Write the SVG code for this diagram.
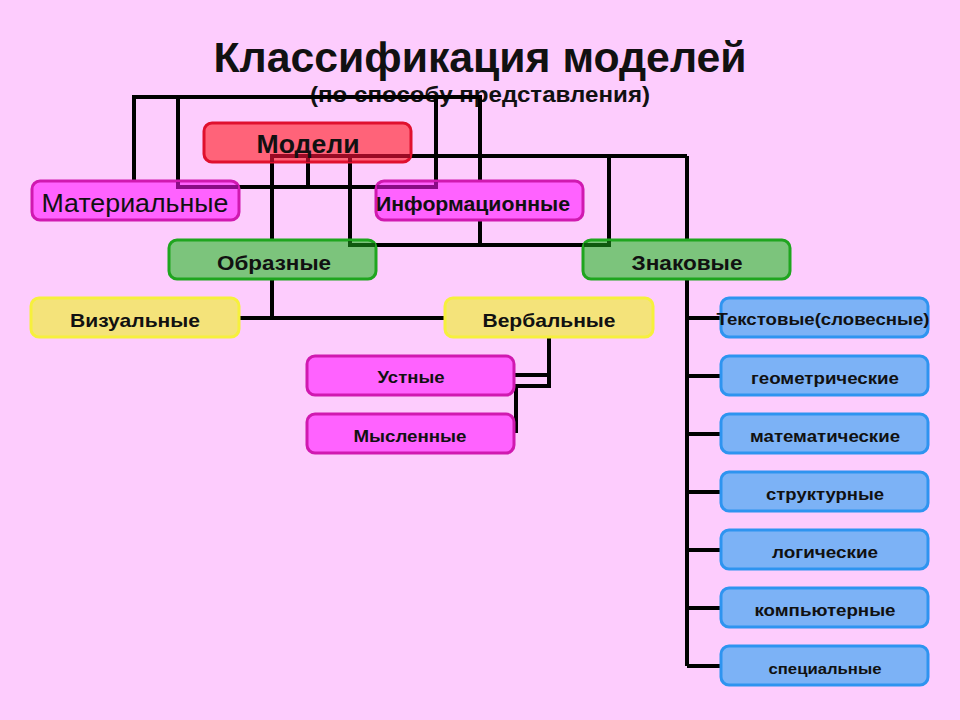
<svg xmlns="http://www.w3.org/2000/svg" width="960" height="720" viewBox="0 0 960 720">
<style>
text{font-family:"Liberation Sans",Arial,sans-serif;font-weight:bold;fill:#111;text-anchor:middle}
.ln{fill:none;stroke:#000;stroke-width:4;stroke-linejoin:miter}
.box{stroke-width:3}
.red{fill:#FF6379;stroke:#E0102E}
.mag{fill:#FF62FF;stroke:#D019B0}
.grn{fill:#7CC47C;stroke:#1FA51F}
.yel{fill:#F4E37A;stroke:#F6F03C}
.blu{fill:#7CB2F6;stroke:#2E94F0}
.in-red{fill:none;stroke:#9A0A24;stroke-width:4}
.in-mag{fill:none;stroke:#8A0C86;stroke-width:4}
.in-grn{fill:none;stroke:#0F5A0F;stroke-width:4}
</style>
<rect x="0" y="0" width="960" height="720" fill="#FDCCFD"/>
<text x="480" y="72" font-size="42" textLength="533" lengthAdjust="spacingAndGlyphs">Классификация моделей</text>
<text x="480" y="102" font-size="22" textLength="340" lengthAdjust="spacingAndGlyphs">(по способу представления)</text>
<g id="connectors">
<path class="ln" d="M134,181 V97 H480 V181"/>
<path class="ln" d="M178,97 V181 M239,187 H376 M436,181 V97"/>
<path class="ln" d="M308,162 V187"/>
<path class="ln" d="M411,156 H687"/>
<path class="ln" d="M272,162 V240 M272,279 V318 M239,318 H445"/>
<path class="ln" d="M350,162 V240 M376,245 H583 M609,240 V156"/>
<path class="ln" d="M480,220 V245"/>
<path class="ln" d="M687,156 V240 M687,279 V666 M687,318 H721 M687,376 H721 M687,434 H721 M687,492 H721 M687,550 H721 M687,608 H721 M687,666 H721"/>
<path class="ln" d="M549,337 V386 H516 V433 M514,375 H549"/>
</g>
<g id="n-modeli"><rect class="box red" x="204" y="123" width="207" height="39" rx="8"/><path class="in-red" d="M272,162 V156 H410 M308,156 V162 M350,156 V162"/><text x="308" y="153" font-size="26" textLength="103" lengthAdjust="spacingAndGlyphs">Модели</text></g>
<g id="n-material"><rect class="box mag" x="32" y="181" width="207" height="39" rx="8"/><path class="in-mag" d="M178,182 V187 H238"/><text x="135" y="212" font-size="26" style="font-weight:normal" textLength="187" lengthAdjust="spacingAndGlyphs">Материальные</text></g>
<g id="n-inform"><rect class="box mag" x="376" y="181" width="207" height="39" rx="8"/><path class="in-mag" d="M377,187 H436 V182"/><text x="473" y="211" font-size="21" textLength="194" lengthAdjust="spacingAndGlyphs">Информационные</text></g>
<g id="n-obraz"><rect class="box grn" x="169" y="240" width="207" height="39" rx="8"/><path class="in-grn" d="M350,241 V245 H375"/><text x="274" y="270" font-size="21" textLength="114" lengthAdjust="spacingAndGlyphs">Образные</text></g>
<g id="n-znak"><rect class="box grn" x="583" y="240" width="207" height="39" rx="8"/><path class="in-grn" d="M584,245 H609 V241"/><text x="687" y="270" font-size="21" textLength="111" lengthAdjust="spacingAndGlyphs">Знаковые</text></g>
<g id="n-vizual"><rect class="box yel" x="31" y="298" width="208" height="39" rx="8"/><text x="135" y="327" font-size="19" textLength="130" lengthAdjust="spacingAndGlyphs">Визуальные</text></g>
<g id="n-verbal"><rect class="box yel" x="445" y="298" width="208" height="39" rx="8"/><text x="549" y="327" font-size="19" textLength="133" lengthAdjust="spacingAndGlyphs">Вербальные</text></g>
<g id="n-ustnye"><rect class="box mag" x="307" y="356" width="207" height="39" rx="8"/><text x="411" y="383" font-size="17" textLength="67" lengthAdjust="spacingAndGlyphs">Устные</text></g>
<g id="n-myslen"><rect class="box mag" x="307" y="414" width="207" height="39" rx="8"/><text x="410" y="442" font-size="17" textLength="113" lengthAdjust="spacingAndGlyphs">Мысленные</text></g>
<g id="n-tekst"><rect class="box blu" x="721" y="298" width="207" height="39" rx="8"/><text x="823" y="325" font-size="17" textLength="213" lengthAdjust="spacingAndGlyphs">Текстовые(словесные)</text></g>
<g id="n-geom"><rect class="box blu" x="721" y="356" width="207" height="39" rx="8"/><text x="825" y="384" font-size="17" textLength="148" lengthAdjust="spacingAndGlyphs">геометрические</text></g>
<g id="n-matem"><rect class="box blu" x="721" y="414" width="207" height="39" rx="8"/><text x="825" y="442" font-size="17" textLength="150" lengthAdjust="spacingAndGlyphs">математические</text></g>
<g id="n-strukt"><rect class="box blu" x="721" y="472" width="207" height="39" rx="8"/><text x="825" y="500" font-size="17" textLength="118" lengthAdjust="spacingAndGlyphs">структурные</text></g>
<g id="n-logic"><rect class="box blu" x="721" y="530" width="207" height="39" rx="8"/><text x="825" y="558" font-size="17" textLength="106" lengthAdjust="spacingAndGlyphs">логические</text></g>
<g id="n-komp"><rect class="box blu" x="721" y="588" width="207" height="39" rx="8"/><text x="825" y="616" font-size="17" textLength="141" lengthAdjust="spacingAndGlyphs">компьютерные</text></g>
<g id="n-spec"><rect class="box blu" x="721" y="646" width="207" height="39" rx="8"/><text x="825" y="674" font-size="15" textLength="113" lengthAdjust="spacingAndGlyphs">специальные</text></g>
</svg>
